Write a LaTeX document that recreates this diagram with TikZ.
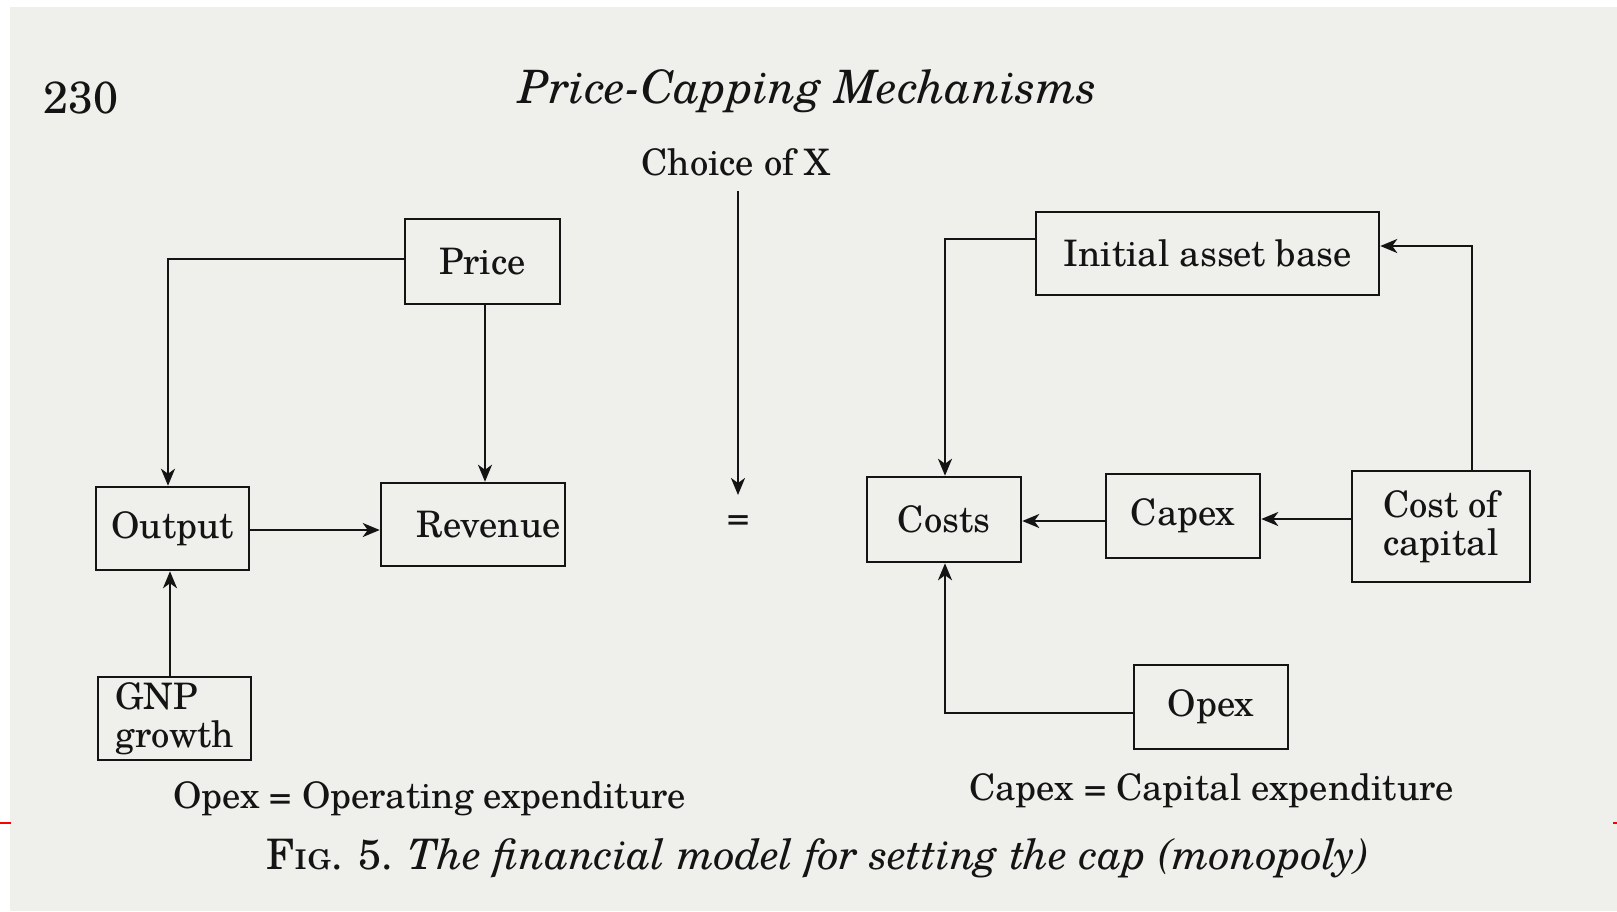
\documentclass[tikz,border=0pt]{standalone}
\usepackage{fontspec}
\setmainfont{TeX Gyre Schola}
\usetikzlibrary{arrows.meta}
\definecolor{paper}{RGB}{239,239,236}
\definecolor{ink}{RGB}{20,20,20}
\tikzset{
  box/.style={draw=ink, line width=2.5pt, inner sep=0pt, font=\fontsize{36.5}{38}\selectfont, text=ink},
  lbl/.style={inner sep=0pt, text=ink, font=\fontsize{36.5}{38}\selectfont},
  conn/.style={draw=ink, line width=2.4pt},
  arr/.style={conn, -{Stealth[length=17pt,width=14pt,inset=5pt]}},
}
\begin{document}
\begin{tikzpicture}[x=1pt,y=-1pt]
\useasboundingbox (0,0) rectangle (1617,911);
\fill[white] (0,0) rectangle (1617,911);
\fill[paper] (10,7) rectangle (1617,911);
\draw[red, line width=1.5pt] (0,823) -- (11,823);
\draw[red, line width=1.5pt] (1613,823) -- (1617,823);
% header
\node[lbl, font=\fontsize{45}{50}\selectfont] (page) at (81,98) {230};
\node[lbl, font=\fontsize{46}{50}\selectfont\itshape] (title) at (808,91) {Price-Capping Mechanisms};
% left boxes
\node[box, minimum width=155pt, minimum height=85pt] (price) at (482.5,261.5) {Price};
\node[box, minimum width=153pt, minimum height=83pt] (output) at (172.5,528.5) {Output};
\node[box, minimum width=184pt, minimum height=83pt] (revenue) at (473,524.5) {\hspace*{31pt}Revenue};
\node[box, minimum width=153pt, minimum height=83pt, align=left, font=\fontsize{36.5}{38}\selectfont] (gnp) at (174.5,718.5) {GNP\\growth};
% choice of X
\node[lbl] (choice) at (736,162) {Choice of X};
\coordinate (cxtop) at (738,191);
\coordinate (cxbot) at (738,495);
\node[lbl] (eq) at (739,523) {=};
% right boxes
\node[box, minimum width=343pt, minimum height=83pt] (iab) at (1207.5,253.5) {Initial asset base};
\node[box, minimum width=154pt, minimum height=85pt] (costs) at (944,519.5) {Costs};
\node[box, minimum width=154pt, minimum height=84pt] (capex) at (1183,516) {Capex};
\node[box, minimum width=178pt, minimum height=111pt, align=center, font=\fontsize{36.5}{38.5}\selectfont] (coc) at (1441,526.5) {Cost of\\capital};
\node[box, minimum width=154pt, minimum height=84pt] (opex) at (1211,707) {Opex};
% notes
\node[lbl, anchor=west] (opexnote) at (173,799) {Opex = Operating expenditure};
\node[lbl, anchor=west] (capexnote) at (969,791) {Capex = Capital expenditure};
\node[lbl, anchor=west, font=\fontsize{42}{46}\selectfont] (caption) at (266,858) {\textsc{Fig.} 5. \textit{The financial model for setting the cap (monopoly)}};
% connectors
\draw[arr] (price.west |- 0,259) -| (output.north -| 168,0);
\draw[arr] (price.south -| 485,0) -- (revenue.north -| 485,0);
\draw[arr] (output.east |- 0,530) -- (revenue.west |- 0,530);
\draw[arr] (gnp.north -| 170,0) -- (output.south -| 170,0);
\draw[arr] (cxtop) -- (cxbot);
\draw[arr] (iab.west |- 0,239) -| (costs.north -| 945,0);
\draw[arr] (coc.north -| 1472,0) |- (iab.east |- 0,246);
\draw[arr] (capex.west |- 0,521) -- (costs.east |- 0,521);
\draw[arr] (coc.west |- 0,519) -- (capex.east |- 0,519);
\draw[arr] (opex.west |- 0,713) -| (costs.south -| 945,0);
\end{tikzpicture}
\end{document}
